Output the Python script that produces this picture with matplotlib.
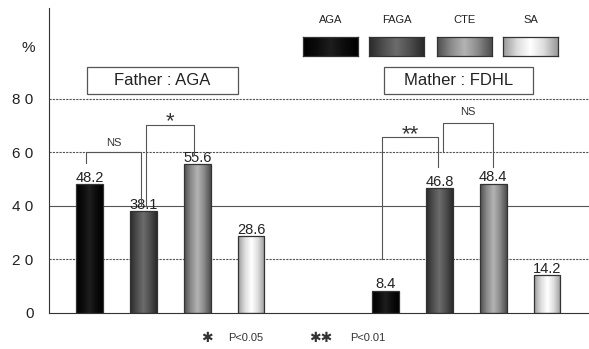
import numpy as np
import matplotlib
matplotlib.use("Agg")
import matplotlib.pyplot as plt
from matplotlib.colors import LinearSegmentedColormap
from matplotlib.patches import Rectangle

plt.rcParams['font.family'] = ['Liberation Sans', 'DejaVu Sans']

# data
categories = ['AGA', 'FAGA', 'CTE', 'SA']
groups = ['Father : AGA', 'Mather : FDHL']
father_vals = [48.2, 38.1, 55.6, 28.6]
mather_vals = [8.4, 46.8, 48.4, 14.2]
ytick_vals = [0, 20, 40, 60, 80]
ytick_labels = ['0', '2 0', '4 0', '6 0', '8 0']

# edge / middle / centre shade of each cylinder-like bar
shades = [('#000000', '#0c0c0c', '#1e1e1e'),
          ('#2a2a2a', '#4e4e4e', '#6c6c6c'),
          ('#4e4e4e', '#8a8a8a', '#b4b4b4'),
          ('#9a9a9a', '#dcdcdc', '#ffffff')]


def gradient_cmap(edge, mid, centre):
    return LinearSegmentedColormap.from_list('g', [edge, mid, centre, mid, edge])


grad = np.linspace(0, 1, 64).reshape(1, -1)

fig = plt.figure(figsize=(5.89, 3.49), dpi=100)
ax = fig.add_axes([49 / 589, 36 / 349, 540 / 589, 305 / 349])

pos_f = np.arange(4)
pos_m = np.arange(4) + 5.5
width = 0.5

for pos, vals in ((pos_f, father_vals), (pos_m, mather_vals)):
    bars = ax.bar(pos, vals, width=width, color='none', edgecolor='#333333',
                  linewidth=0.9, zorder=3)
    for i, b in enumerate(bars):
        x0 = b.get_x()
        im = ax.imshow(grad, cmap=gradient_cmap(*shades[i]), aspect='auto',
                       extent=[x0, x0 + width, 0, vals[i]], zorder=2)
        im.set_clip_path(b)
        ax.text(pos[i], vals[i] - 0.3, f'{vals[i]}', ha='center', va='bottom',
                fontsize=10.5, color='#222222', zorder=4)

ax.set_xlim(-0.753, 9.28)
ax.set_ylim(0, 114)

# grid lines
for v in ytick_vals[1:]:
    if v == 40:
        ax.axhline(v, color='#555555', lw=0.8, zorder=1)
    else:
        ax.axhline(v, color='#555555', lw=0.8, ls=(0, (2, 1)), zorder=1)

ax.set_yticks(ytick_vals)
ax.set_yticklabels(ytick_labels, fontsize=11, color='#222222')
ax.tick_params(axis='y', length=0, pad=11)
ax.set_xticks([])
ax.text(-0.025, 99, '%', transform=ax.get_yaxis_transform(), ha='right',
        va='center', fontsize=11, color='#222222')

for s in ('top', 'right'):
    ax.spines[s].set_visible(False)
ax.spines['left'].set_color('#333333')
ax.spines['bottom'].set_color('#333333')


def bracket(x1, x2, ytop, yb1, yb2, label, ly, size):
    ax.plot([x1, x1, x2, x2], [yb1, ytop, ytop, yb2], color='#555555',
            lw=0.8, zorder=5)
    ax.text((x1 + x2) / 2, ly, label, ha='center', va='center',
            fontsize=size, color='#333333', zorder=5)


bracket(-0.065, 0.957, 60, 56, 40.5, 'NS', 63.5, 8)
bracket(1.05, 1.94, 70.3, 40.5, 59, '*', 71.5, 16)
bracket(5.44, 6.48, 65.8, 20, 54.6, '**', 66.5, 16)
bracket(6.56, 7.49, 71, 60, 54.6, 'NS', 75, 8)

# group title boxes
for (x0, x1), name in zip(((87, 238), (384, 533)), groups):
    fx0, fx1 = x0 / 589, x1 / 589
    fig.patches.append(Rectangle((fx0, 1 - 94 / 349), fx1 - fx0, 27 / 349,
                                 transform=fig.transFigure, fill=True,
                                 facecolor='white', edgecolor='#555555',
                                 lw=0.9, zorder=5))
    fig.text((fx0 + fx1) / 2, 1 - 80.5 / 349, name, ha='center', va='center',
             fontsize=12, color='#222222', zorder=6)

# legend swatches
sw_x = [(303, 358), (369, 424), (437, 492), (503, 558)]
for (x0, x1), cat, sh in zip(sw_x, categories, shades):
    sax = fig.add_axes([x0 / 589, 1 - 56 / 349, (x1 - x0) / 589, 19 / 349])
    sax.imshow(grad, cmap=gradient_cmap(*sh), aspect='auto')
    sax.set_xticks([])
    sax.set_yticks([])
    for sp in sax.spines.values():
        sp.set_color('#333333')
        sp.set_linewidth(0.9)
    fig.text((x0 + x1) / 2 / 589, 1 - 20 / 349, cat, ha='center',
             va='center', fontsize=8, color='#222222')

# footnote
fig.text(207 / 589, 1 - 338 / 349, '\u2731', ha='center', va='center',
         fontsize=10, color='#333333')
fig.text(228 / 589, 1 - 338 / 349, 'P<0.05', ha='left', va='center',
         fontsize=8, color='#333333')
fig.text(321 / 589, 1 - 338 / 349, '\u2731\u2731', ha='center', va='center',
         fontsize=10, color='#333333')
fig.text(350 / 589, 1 - 338 / 349, 'P<0.01', ha='left', va='center',
         fontsize=8, color='#333333')

fig.savefig('out.png', dpi=100)
